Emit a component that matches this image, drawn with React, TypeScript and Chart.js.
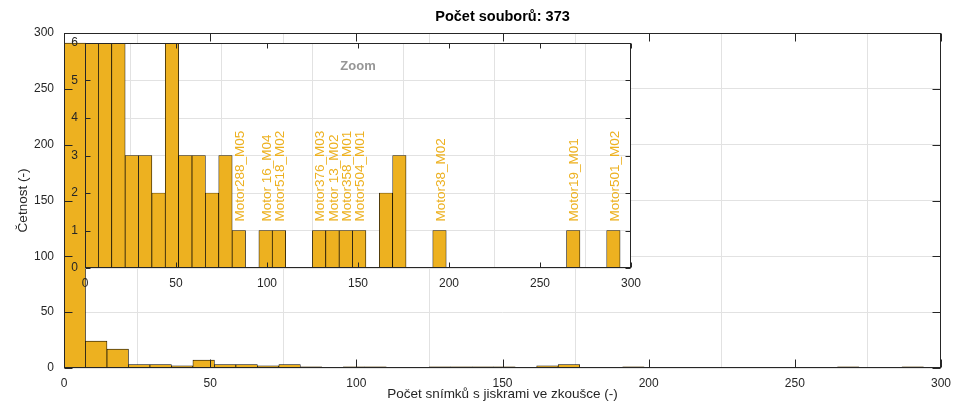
import React, { useEffect, useRef } from "react";
import { Chart, registerables } from "chart.js";

Chart.register(...registerables);

// ---- data ----
const binEdges = [
  0, 7.35, 14.7, 22.05, 29.4, 36.75, 44.1, 51.45, 58.8, 66.15, 73.5, 80.85, 88.2, 95.55, 102.9,
  110.25, 117.6, 124.95, 132.3, 139.65, 147, 154.35, 161.7, 169.05, 176.4, 183.75, 191.1, 198.45,
  205.8, 213.15, 220.5, 227.85, 235.2, 242.55, 249.9, 257.25, 264.6, 271.95, 279.3, 286.65, 294,
];
const counts = [
  291, 24, 17, 3, 3, 2, 7, 3, 3, 2, 3, 1, 0, 1, 1, 0, 0, 1, 1, 1, 1, 0, 2, 3, 0, 0, 1, 0, 0, 0, 0,
  0, 0, 0, 0, 0, 1, 0, 0, 1,
];
const labelBins = [11, 13, 14, 17, 18, 19, 20, 26, 36, 39];
const labelNames = [
  "Motor288_M05",
  "Motor 16_M04",
  "Motor518_M02",
  "Motor376_M03",
  "Motor 13_M02",
  "Motor358_M01",
  "Motor504_M01",
  "Motor38_M02",
  "Motor19_M01",
  "Motor501_M02",
];
const xTickStep = 50;
const mainYTickStep = 50;
const insetYTickStep = 1;
const titleText = "Počet souborů: 373";
const xLabel = "Počet snímků s jiskrami ve zkoušce (-)";
const yLabel = "Četnost (-)";
const insetTitle = "Zoom";

// ---- style ----
const FONT = "'Liberation Sans', Arial, Helvetica, sans-serif";
const BAR = "#EDB120";
const AXIS = "#262626";
const GRID = "#e2e2e2";

const points = counts.map((c, i) => ({ x: (binEdges[i] + binEdges[i + 1]) / 2, y: c }));

function framePlugin(id: string, tickLen: number) {
  return {
    id,
    afterDraw(chart: any) {
      const { ctx, chartArea } = chart;
      const l = Math.round(chartArea.left) + 0.5;
      const r = Math.round(chartArea.right) - 0.5;
      const t = Math.round(chartArea.top) + 0.5;
      const b = Math.round(chartArea.bottom) - 0.5;
      ctx.save();
      ctx.strokeStyle = AXIS;
      ctx.lineWidth = 1;
      ctx.beginPath();
      const xs = chart.scales.x;
      const ys = chart.scales.y;
      xs.ticks.forEach((tk: any) => {
        const p = Math.round(xs.getPixelForValue(tk.value)) + 0.5;
        ctx.moveTo(p, b);
        ctx.lineTo(p, b - tickLen);
        ctx.moveTo(p, t);
        ctx.lineTo(p, t + tickLen);
      });
      ys.ticks.forEach((tk: any) => {
        const p = Math.round(ys.getPixelForValue(tk.value)) + 0.5;
        ctx.moveTo(l, p);
        ctx.lineTo(l + tickLen, p);
        ctx.moveTo(r, p);
        ctx.lineTo(r - tickLen, p);
      });
      ctx.stroke();
      ctx.strokeRect(l, t, r - l, b - t);
      ctx.restore();
    },
  };
}

const whiteBg = {
  id: "whiteBg",
  beforeDraw(chart: any) {
    const { ctx, chartArea } = chart;
    ctx.save();
    ctx.fillStyle = "#ffffff";
    ctx.fillRect(chartArea.left, chartArea.top, chartArea.right - chartArea.left, chartArea.bottom - chartArea.top);
    ctx.restore();
  },
};

const insetText = {
  id: "insetText",
  afterDatasetsDraw(chart: any) {
    const { ctx, chartArea } = chart;
    const xs = chart.scales.x;
    const ys = chart.scales.y;
    ctx.save();
    ctx.fillStyle = "#969696";
    ctx.font = `bold 13px ${FONT}`;
    ctx.textAlign = "center";
    ctx.textBaseline = "middle";
    ctx.fillText(insetTitle, (chartArea.left + chartArea.right) / 2, chartArea.top + 23);
    ctx.fillStyle = BAR;
    ctx.font = `13.5px ${FONT}`;
    ctx.textAlign = "left";
    labelBins.forEach((bi, k) => {
      const px = xs.getPixelForValue(points[bi].x) + 1.5;
      const py = ys.getPixelForValue(points[bi].y) - 9;
      ctx.save();
      ctx.translate(px, py);
      ctx.rotate(-Math.PI / 2);
      ctx.fillText(labelNames[k], 0, 0);
      ctx.restore();
    });
    ctx.restore();
  },
};

function dataset() {
  return {
    data: points,
    backgroundColor: BAR,
    borderColor: "#000000",
    borderWidth: 0.7,
    barPercentage: 1,
    categoryPercentage: 1,
    grouped: false,
    clip: 0,
  };
}

function tickFont() {
  return { size: 12, family: FONT };
}

const fitX = (h: number) => (s: any) => {
  s.height = h;
  s.paddingLeft = 0;
  s.paddingRight = 0;
};
const fitY = (w: number) => (s: any) => {
  s.width = w;
  s.paddingTop = 0;
  s.paddingBottom = 0;
};

export default function App() {
  const mainRef = useRef<HTMLCanvasElement>(null);
  const insetRef = useRef<HTMLCanvasElement>(null);

  useEffect(() => {
    const main = new Chart(mainRef.current as HTMLCanvasElement, {
      type: "bar",
      data: { datasets: [dataset() as any] },
      options: {
        animation: false,
        responsive: false,
        devicePixelRatio: 1,
        layout: { padding: { top: 0, right: 15, bottom: 0, left: 0 } },
        plugins: {
          legend: { display: false },
          tooltip: { enabled: false },
          title: {
            display: true,
            text: titleText,
            color: "#000",
            fullSize: false,
            font: { size: 14.5, weight: "bold", family: FONT },
            padding: { top: 8, bottom: 7.6 },
          },
        },
        scales: {
          x: {
            type: "linear",
            min: 0,
            max: 300,
            offset: false,
            ticks: { stepSize: xTickStep, padding: 8, font: tickFont(), color: AXIS, maxRotation: 0 },
            grid: { color: GRID, drawTicks: false },
            border: { display: false },
            title: { display: true, text: xLabel, color: AXIS, font: { size: 13.5, family: FONT }, padding: { top: 0, bottom: 12 } },
            afterFit: fitX(46),
          },
          y: {
            type: "linear",
            min: 0,
            max: 300,
            ticks: { stepSize: mainYTickStep, padding: 10, font: tickFont(), color: AXIS },
            grid: { color: GRID, drawTicks: false },
            border: { display: false },
            title: { display: true, text: yLabel, color: AXIS, font: { size: 13.5, family: FONT }, padding: { top: 15, bottom: 0 } },
            afterFit: fitY(64),
          },
        },
      } as any,
      plugins: [framePlugin("mainFrame", 8)],
    });

    const inset = new Chart(insetRef.current as HTMLCanvasElement, {
      type: "bar",
      data: { datasets: [dataset() as any] },
      options: {
        animation: false,
        responsive: false,
        devicePixelRatio: 1,
        layout: { padding: { top: 11, right: 19, bottom: 0, left: 0 } },
        plugins: {
          legend: { display: false },
          tooltip: { enabled: false },
          title: { display: false },
        },
        scales: {
          x: {
            type: "linear",
            min: 0,
            max: 300,
            offset: false,
            ticks: { stepSize: xTickStep, padding: 8, font: tickFont(), color: AXIS, maxRotation: 0 },
            grid: { color: GRID, drawTicks: false },
            border: { display: false },
            afterFit: fitX(26),
          },
          y: {
            type: "linear",
            min: 0,
            max: 6,
            ticks: { stepSize: insetYTickStep, padding: 7, font: tickFont(), color: AXIS },
            grid: { color: GRID, drawTicks: false },
            border: { display: false },
            afterFit: fitY(25),
          },
        },
      } as any,
      plugins: [whiteBg, insetText, framePlugin("insetFrame", 5)],
    });

    return () => {
      main.destroy();
      inset.destroy();
    };
  }, []);

  return (
    <div style={{ position: "absolute", left: 0, top: 0, width: 956, height: 414, background: "#fff", overflow: "hidden" }}>
      <canvas ref={mainRef} width={956} height={414} style={{ position: "absolute", left: 0, top: 0, width: 956, height: 414 }} />
      <canvas ref={insetRef} width={590} height={262} style={{ position: "absolute", left: 60, top: 32, width: 590, height: 262 }} />
    </div>
  );
}
